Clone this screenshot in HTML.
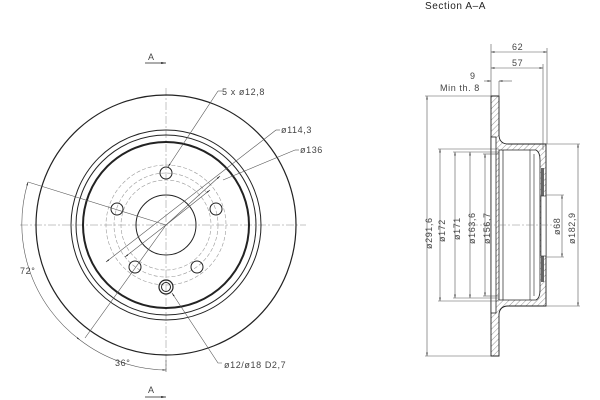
<!DOCTYPE html>
<html><head><meta charset="utf-8"><style>
html,body{margin:0;padding:0;background:#fff;width:600px;height:400px;overflow:hidden}
text{font-family:"Liberation Sans",sans-serif;font-size:9px;fill:#444;letter-spacing:0.6px}
</style></head><body>
<svg width="600" height="400" viewBox="0 0 600 400" xmlns="http://www.w3.org/2000/svg">
<defs>
<pattern id="h" width="4" height="4" patternUnits="userSpaceOnUse" patternTransform="rotate(45)">
<rect width="4" height="4" fill="#fff"/><line x1="0" y1="0" x2="0" y2="4" stroke="#777" stroke-width="0.8"/></pattern>
<marker id="a" viewBox="0 0 10 10" refX="10" refY="5" markerWidth="6" markerHeight="6" orient="auto-start-reverse"><path d="M0,3L10,5L0,7z" fill="#222"/></marker>
</defs>
<g fill="none" stroke="#222">
<line x1="166" y1="88" x2="166" y2="370" stroke="#888" stroke-width="0.5" stroke-dasharray="8,2,2,2"/>
<line x1="20" y1="225" x2="306" y2="225" stroke="#888" stroke-width="0.5" stroke-dasharray="8,2,2,2"/>
<circle cx="166" cy="225" r="130" stroke-width="1.2"/>
<circle cx="166" cy="225" r="95" stroke-width="1"/>
<circle cx="166" cy="225" r="90" stroke-width="1"/>
<circle cx="166" cy="225" r="83" stroke-width="2"/>
<circle cx="166" cy="225" r="60" stroke="#999" stroke-width="0.6" stroke-dasharray="4,2"/>
<circle cx="166" cy="225" r="52" stroke="#999" stroke-width="0.6" stroke-dasharray="4,2"/>
<circle cx="166" cy="225" r="45" stroke="#999" stroke-width="0.6" stroke-dasharray="4,2"/>
<circle cx="166" cy="225" r="30" stroke-width="1"/>
<circle cx="166" cy="173" r="6"/><circle cx="216" cy="209" r="6"/><circle cx="197" cy="267" r="6"/>
<circle cx="135" cy="267" r="6"/><circle cx="117" cy="209" r="6"/>
<circle cx="166" cy="287" r="7" stroke-width="1.2"/><circle cx="166" cy="287" r="4.5"/>
<g stroke="#555" stroke-width="0.6">
<polyline points="218,91 222,91"/><line x1="218" y1="91" x2="168" y2="167" marker-end="url(#a)"/>
<polyline points="276,130 280,130"/><line x1="276" y1="130" x2="106" y2="262" marker-end="url(#a)"/><line x1="166" y1="225" x2="210" y2="190" marker-end="url(#a)"/>
<polyline points="295,150 299,150"/><line x1="295" y1="150" x2="223" y2="180" /><line x1="166" y1="225" x2="220" y2="176" marker-end="url(#a)"/><line x1="166" y1="225" x2="125" y2="257" marker-end="url(#a)"/>
<line x1="166" y1="225" x2="28" y2="182"/>
<line x1="166" y1="225" x2="85" y2="338"/>
<polyline points="222,363 218,363 172,293" marker-end="url(#a)"/>
<path d="M28,182 A145,145 0 0 0 80,340" marker-start="url(#a)" marker-end="url(#a)"/>
<path d="M80,340 A145,145 0 0 0 166,370" marker-end="url(#a)"/>
<line x1="166" y1="360" x2="166" y2="372"/>
</g>
<g stroke-width="0.8"><line x1="145" y1="63" x2="166" y2="63" marker-end="url(#a)"/><line x1="145" y1="397" x2="166" y2="397" marker-end="url(#a)"/></g>
<path d="M491,96 H499 V136 Q500,144 508,144 H546 V306 H508 Q500,306 499,314 V356 H491 Z" fill="url(#h)" stroke-width="0.9"/>
<path d="M499,150 H536 Q540,152 540,160 V290 Q540,298 536,300 H499 Z" fill="#fff" stroke-width="0.8"/>
<rect x="491" y="137" width="5" height="176" fill="#fff" stroke-width="0.8"/>
<line x1="503" y1="150" x2="503" y2="300" stroke-width="0.7"/>
<line x1="530" y1="150" x2="530" y2="300" stroke-width="0.6"/>
<line x1="534" y1="154" x2="534" y2="296" stroke-width="0.6"/>
<rect x="541" y="168" width="3" height="114" fill="#666" stroke="none"/>
<rect x="541" y="196" width="5" height="60" fill="#fff" stroke-width="0.6"/>
<line x1="470" y1="225" x2="560" y2="225" stroke="#888" stroke-width="0.5" stroke-dasharray="8,2,2,2"/>
<g stroke="#555" stroke-width="0.6">
<line x1="491" y1="44" x2="491" y2="96"/><line x1="547" y1="48" x2="547" y2="144"/><line x1="543" y1="64" x2="543" y2="150"/>
<line x1="491" y1="52" x2="547" y2="52" marker-start="url(#a)" marker-end="url(#a)"/>
<line x1="491" y1="68" x2="543" y2="68" marker-start="url(#a)" marker-end="url(#a)"/>
<line x1="484" y1="81" x2="491" y2="81" marker-end="url(#a)"/><line x1="512" y1="81" x2="499" y2="81" marker-end="url(#a)"/><line x1="499" y1="81" x2="499" y2="96"/>
<line x1="425" y1="96" x2="491" y2="96"/><line x1="425" y1="356" x2="491" y2="356"/>
<line x1="427" y1="96" x2="427" y2="356" marker-start="url(#a)" marker-end="url(#a)"/>
<line x1="438" y1="149" x2="499" y2="149"/><line x1="438" y1="301" x2="499" y2="301"/>
<line x1="440" y1="149" x2="440" y2="301" marker-start="url(#a)" marker-end="url(#a)"/>
<line x1="455" y1="152" x2="455" y2="298" marker-start="url(#a)" marker-end="url(#a)"/><line x1="453" y1="152" x2="499" y2="152"/><line x1="453" y1="298" x2="499" y2="298"/>
<line x1="470" y1="152" x2="470" y2="298" marker-start="url(#a)" marker-end="url(#a)"/>
<line x1="485" y1="154" x2="485" y2="296" marker-start="url(#a)" marker-end="url(#a)"/><line x1="483" y1="154" x2="499" y2="154"/><line x1="483" y1="296" x2="499" y2="296"/>
<line x1="546" y1="195" x2="564" y2="195"/><line x1="546" y1="257" x2="564" y2="257"/>
<line x1="562" y1="195" x2="562" y2="257" marker-start="url(#a)" marker-end="url(#a)"/>
<line x1="546" y1="144" x2="580" y2="144"/><line x1="546" y1="306" x2="580" y2="306"/>
<line x1="578" y1="144" x2="578" y2="306" marker-start="url(#a)" marker-end="url(#a)"/>
</g>
</g>
<text x="222" y="95">5 x ø12,8</text>
<text x="281" y="133">ø114,3</text>
<text x="300" y="153">ø136</text>
<text x="20" y="274">72°</text>
<text x="115" y="366">36°</text>
<text x="224" y="368">ø12/ø18 D2,7</text>
<text x="148" y="60">A</text><text x="148" y="393">A</text>
<text x="425" y="9" style="font-size:10px;fill:#222">Section A–A</text>
<text x="512" y="50">62</text><text x="512" y="66">57</text><text x="470" y="79">9</text>
<text x="440" y="91">Min th. 8</text>
<g transform="rotate(-90)">
<text x="-249" y="432">ø291,6</text>
<text x="-242" y="445">ø172</text>
<text x="-240" y="460">ø171</text>
<text x="-244" y="475">ø163,6</text>
<text x="-244" y="490">ø156,7</text>
<text x="-235" y="560">ø68</text>
<text x="-244" y="575">ø182,9</text>
</g>
</svg>
</body></html>
